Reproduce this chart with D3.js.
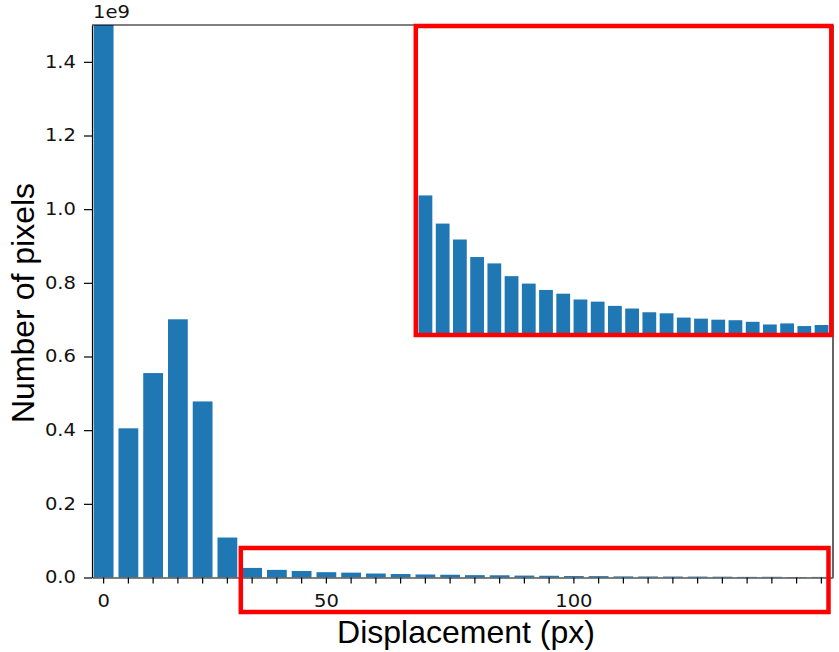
<!DOCTYPE html>
<html><head><meta charset="utf-8">
<script src="https://cdn.jsdelivr.net/npm/d3@7/dist/d3.min.js"></script>
<style>body{margin:0;background:#fff}</style>
</head><body>
<svg id="chart" width="839" height="652"></svg>
<script>
// ---- data ----
const binIndex = [0,1,2,3,4,5,6,7,8,9,10,11,12,13,14,15,16,17,18,19,20,21,22,23,24,25,26,27,28,29];
const pixelCounts = [1.55e9, 0.405e9, 0.555e9, 0.701e9, 0.478e9, 0.1085e9,
  0.0260e9, 0.0207e9, 0.0177e9, 0.0144e9, 0.0132e9, 0.0108e9, 0.0094e9, 0.0082e9,
  0.0075e9, 0.0064e9, 0.0060e9, 0.0052e9, 0.0047e9, 0.0040e9, 0.0038e9, 0.0030e9,
  0.0028e9, 0.0026e9, 0.0025e9, 0.0022e9, 0.0017e9, 0.0019e9, 0.0014e9, 0.0016e9];
const yTicks = [0, 0.2e9, 0.4e9, 0.6e9, 0.8e9, 1.0e9, 1.2e9, 1.4e9];
const xLabelBins = [0, 9, 19];
const xLabelText = ["0", "50", "100"];
const insetBins = [6,7,8,9,10,11,12,13,14,15,16,17,18,19,20,21,22,23,24,25,26,27,28,29];
const insetYMax = 0.058e9;

// ---- layout ----
const svg = d3.select('#chart');
const M = {left: 92, right: 833, top: 25, bottom: 577.5};
const blue = '#1f77b4';
const tickFont = '"DejaVu Sans", sans-serif';
const labelFont = '"Liberation Sans", Arial, sans-serif';

const x = d3.scaleBand().domain(binIndex).range([M.left, M.right]).paddingInner(0.2).paddingOuter(0.07);
const y = d3.scaleLinear().domain([0, 1.5e9]).range([M.bottom, M.top]);

svg.append('defs').append('clipPath').attr('id', 'plotclip')
  .append('rect').attr('x', M.left).attr('y', M.top)
  .attr('width', M.right - M.left).attr('height', M.bottom - M.top);

svg.append('g').attr('clip-path', 'url(#plotclip)')
  .selectAll('rect').data(binIndex).join('rect')
  .attr('x', d => x(d)).attr('width', x.bandwidth())
  .attr('y', d => y(pixelCounts[d])).attr('height', d => y(0) - y(pixelCounts[d]))
  .attr('fill', blue);

// frame top/right
svg.append('line').attr('x1', M.left).attr('x2', M.right).attr('y1', M.top).attr('y2', M.top)
  .attr('stroke', '#000').attr('stroke-width', 1.2);
svg.append('line').attr('x1', M.right).attr('x2', M.right).attr('y1', M.top).attr('y2', M.bottom)
  .attr('stroke', '#000').attr('stroke-width', 1.2);

// y axis
const gy = svg.append('g').attr('transform', `translate(${M.left},0)`)
  .call(d3.axisLeft(y).tickValues(yTicks).tickSize(8).tickSizeOuter(0)
    .tickFormat(d => (d / 1e9).toFixed(1)));
gy.select('.domain').attr('stroke-width', 1.2);
gy.selectAll('.tick line').attr('stroke-width', 1.2);
gy.selectAll('.tick text').attr('x', 0).attr('transform', 'translate(-16,0) scale(1.15,1)')
  .style('font-family', tickFont).style('font-size', '17px').attr('fill', '#111');

// x axis
const gx = svg.append('g').attr('transform', `translate(0,${M.bottom})`)
  .call(d3.axisBottom(x).tickSize(6).tickSizeOuter(0)
    .tickFormat(d => { const i = xLabelBins.indexOf(d); return i >= 0 ? xLabelText[i] : ''; }));
gx.select('.domain').attr('stroke-width', 1.2);
gx.selectAll('.tick line').attr('stroke-width', 1.2);
gx.selectAll('.tick text').attr('y', 17).attr('transform', 'scale(1.15,1)')
  .style('font-family', tickFont).style('font-size', '17px').attr('fill', '#111');

// offset text
svg.append('text').attr('x', 0).attr('y', 0)
  .attr('transform', `translate(${M.left + 1},17.5) scale(1.15,1)`)
  .style('font-family', tickFont).style('font-size', '17px').attr('fill', '#111').text('1e9');

// axis labels
svg.append('text').attr('transform', 'translate(34,303) rotate(-90)')
  .attr('text-anchor', 'middle').style('font-family', labelFont).style('font-size', '32px')
  .attr('fill', '#000').text('Number of pixels');
svg.append('text').attr('x', 466).attr('y', 643)
  .attr('text-anchor', 'middle').style('font-family', labelFont).style('font-size', '32px')
  .attr('fill', '#000').text('Displacement (px)');

// red highlight box over the tail
svg.append('rect').attr('x', 240.8).attr('y', 548).attr('width', 828.5 - 240.8).attr('height', 612 - 548)
  .attr('fill', 'none').attr('stroke', '#ff0000').attr('stroke-width', 4.5);

// inset (zoom of the tail)
const ix = d3.scaleBand().domain(insetBins).range([417, 830]).paddingInner(0.2).paddingOuter(0.09);
const iy = d3.scaleLinear().domain([0, insetYMax]).range([333.5, 25.5]);
const inset = svg.append('g');
inset.append('rect').attr('x', 415.8).attr('y', 26).attr('width', 831.3 - 415.8).attr('height', 335 - 26)
  .attr('fill', '#fff');
inset.selectAll('rect.ib').data(insetBins).join('rect').attr('class', 'ib')
  .attr('x', d => ix(d)).attr('width', ix.bandwidth())
  .attr('y', d => iy(pixelCounts[d])).attr('height', d => iy(0) - iy(pixelCounts[d]))
  .attr('fill', blue);
inset.append('rect').attr('x', 415.8).attr('y', 26).attr('width', 831.3 - 415.8).attr('height', 335 - 26)
  .attr('fill', 'none').attr('stroke', '#ff0000').attr('stroke-width', 4.5);
</script>
</body></html>
